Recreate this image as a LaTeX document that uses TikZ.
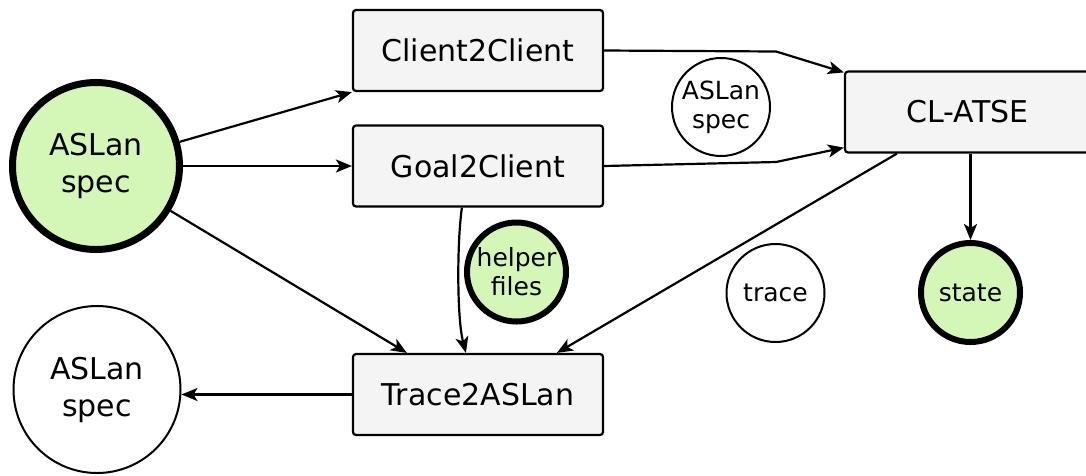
\documentclass[tikz,border=0pt]{standalone}
\usepackage{fontspec}
\setmainfont{DejaVu Sans}
\usetikzlibrary{arrows.meta,calc}
\definecolor{specgreen}{HTML}{D4F7B8}
\definecolor{boxgray}{HTML}{F4F4F4}

\begin{document}
\begin{tikzpicture}[x=1pt,y=-1pt,
  tool/.style={draw, line width=2.2pt, rounded corners=3pt, fill=boxgray,
    minimum width=250pt, minimum height=81pt, inner sep=0pt,
    font=\fontsize{30}{37}\selectfont},
  bigdoc/.style={circle, draw, inner sep=0pt, minimum size=167pt, align=center,
    font=\fontsize{30}{37}\selectfont},
  smalldoc/.style={circle, draw, inner sep=0pt, minimum size=98pt, align=center,
    font=\fontsize{25}{29}\selectfont},
  given/.style={line width=7pt, fill=specgreen},
  givensmall/.style={line width=6pt, fill=specgreen, minimum size=99pt},
  plain/.style={line width=2pt},
  arr/.style={line width=2.2pt, -{Stealth[length=16pt,width=13pt,inset=4pt]}}
]
\path[use as bounding box] (0,0) rectangle (1086,475);
\clip (0,0) rectangle (1086,475);

% documents
\node[bigdoc, given] (specIn) at (96,166) {ASLan\\spec};
\node[bigdoc, plain] (specOut) at (97,389.5) {ASLan\\spec};
\node[smalldoc, plain] (specMid) at (721,107) {ASLan\\spec};
\node[smalldoc, givensmall] (helper) at (516.5,272) {helper\\files};
\node[smalldoc, plain] (trace) at (775.5,293) {trace};
\node[smalldoc, givensmall] (state) at (970.5,292.5) {state};

% tools
\node[tool] (c2c) at (478,50.5) {Client2Client};
\node[tool] (g2c) at (478,166) {Goal2Client};
\node[tool] (t2a) at (478,394.5) {Trace2ASLan};
\node[tool, minimum width=245pt] (cl) at (967.5,112) {CL-ATSE};

% data flow
\draw[arr] (specIn) -- (c2c.south west);
\draw[arr] (specIn.east) -- (g2c.west);
\draw[arr] (specIn) -- ($(t2a.north west)+(55,0)$);
\draw[arr] (c2c.east) -- ++(172,1) -- ([yshift=-2pt]cl.north west);
\draw[arr] (g2c.east) -- ++(172,-4) -- ([yshift=6pt]cl.south west);
\draw[arr] ($(g2c.south west)+(110,0)$) .. controls +(-5,35) and +(-9,-35) .. ($(t2a.north west)+(114,0)$);
\draw[arr] ($(cl.south west)+(53,0)$) -- ($(t2a.north west)+(205,0)$);
\draw[arr] (state |- cl.south) -- (state.north);
\draw[arr] (t2a.west) -- (t2a.west -| specOut.east);
\end{tikzpicture}
\end{document}
